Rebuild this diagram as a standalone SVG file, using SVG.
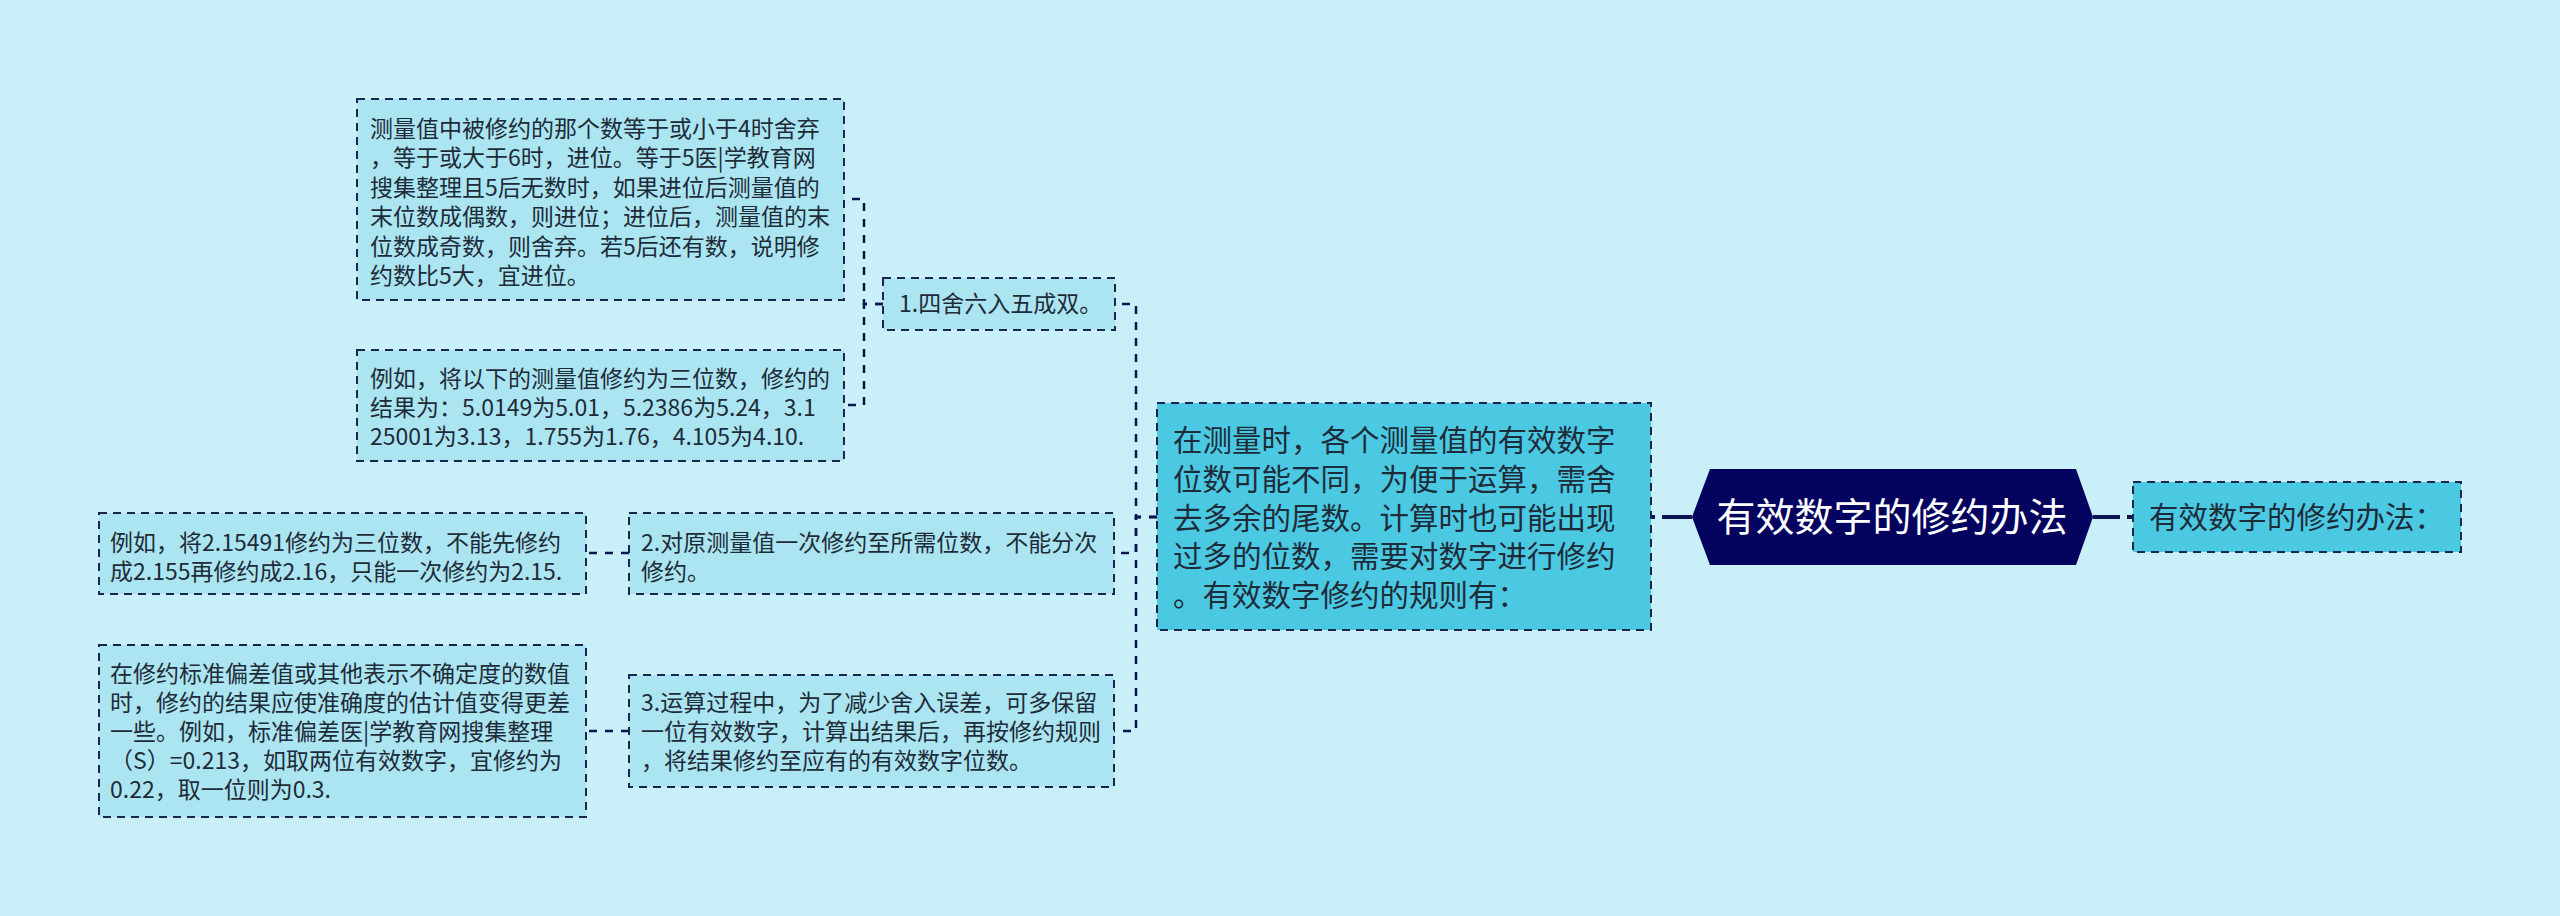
<svg xmlns="http://www.w3.org/2000/svg" width="2560" height="916" viewBox="0 0 2560 916">
<style>
.bg{fill:#c9f0f8}
.leaf{fill:#ace5f2;stroke:#1a2550;stroke-width:2;stroke-dasharray:8 6}
.main{fill:#4bc9e2;stroke:#1a2550;stroke-width:2;stroke-dasharray:8 6}
.t{font-family:"Noto Sans CJK SC","Microsoft YaHei",sans-serif;fill:#1e2b38}
.s{font-size:23px}
.m{font-size:29.5px}
.conn{fill:none;stroke:#0d1450;stroke-width:2.5;stroke-dasharray:8 8}
.thick{fill:none;stroke:#0d1450;stroke-width:4}
</style>
<rect class="bg" x="0" y="0" width="2560" height="916"/>
<g id="connectors">
<path class="conn" d="M1157,517 H1136 V304 H1115"/>
<path class="conn" d="M1157,517 H1136 V553 H1114"/>
<path class="conn" d="M1157,517 H1136 V731 H1114"/>
<path class="conn" d="M883,304 H864 V199 H844"/>
<path class="conn" d="M883,304 H864 V405 H844"/>
<path class="conn" d="M629,553 H586"/>
<path class="conn" d="M629,731 H586"/>
<path class="thick" d="M1692,517 H1651" stroke-dasharray="30 7 5"/>
<path class="thick" d="M2093,517 H2133" stroke-dasharray="27 7 6"/>
</g>
<g id="root">
<polygon points="1692,517 1710,469 2076,469 2093,517 2076,565 1710,565" fill="#03035f"/>
<text class="t" x="1892" y="531" font-size="39" text-anchor="middle" style="fill:#ffffff">有效数字的修约办法</text>
</g>
<g id="right-node">
<rect class="main" x="2133" y="482" width="328" height="70"/>
<text class="t m" x="2149" y="528">有效数字的修约办法：</text>
</g>
<g id="main-node">
<rect class="main" x="1157" y="403" width="494" height="227"/>
<text class="t m" x="1173" y="451">在测量时，各个测量值的有效数字</text>
<text class="t m" x="1173" y="490">位数可能不同，为便于运算，需舍</text>
<text class="t m" x="1173" y="529">去多余的尾数。计算时也可能出现</text>
<text class="t m" x="1173" y="567">过多的位数，需要对数字进行修约</text>
<text class="t m" x="1173" y="606">。有效数字修约的规则有：</text>
</g>
<g id="node-1">
<rect class="leaf" x="883" y="278" width="232" height="52"/>
<text class="t s" x="899" y="312">1.四舍六入五成双。</text>
</g>
<g id="node-1a">
<rect class="leaf" x="357" y="99" width="487" height="201"/>
<text class="t s" x="370" y="137">测量值中被修约的那个数等于或小于4时舍弃</text>
<text class="t s" x="370" y="166.4">，等于或大于6时，进位。等于5医|学教育网</text>
<text class="t s" x="370" y="195.8">搜集整理且5后无数时，如果进位后测量值的</text>
<text class="t s" x="370" y="225.2">末位数成偶数，则进位；进位后，测量值的末</text>
<text class="t s" x="370" y="254.6">位数成奇数，则舍弃。若5后还有数，说明修</text>
<text class="t s" x="370" y="284">约数比5大，宜进位。</text>
</g>
<g id="node-1b">
<rect class="leaf" x="357" y="350" width="487" height="111"/>
<text class="t s" x="370" y="387">例如，将以下的测量值修约为三位数，修约的</text>
<text class="t s" x="370" y="416">结果为：5.0149为5.01，5.2386为5.24，3.1</text>
<text class="t s" x="370" y="445">25001为3.13，1.755为1.76，4.105为4.10.</text>
</g>
<g id="node-2">
<rect class="leaf" x="629" y="513" width="485" height="81"/>
<text class="t s" x="641" y="551">2.对原测量值一次修约至所需位数，不能分次</text>
<text class="t s" x="641" y="580">修约。</text>
</g>
<g id="node-2a">
<rect class="leaf" x="99" y="513" width="487" height="81"/>
<text class="t s" x="110" y="551">例如，将2.15491修约为三位数，不能先修约</text>
<text class="t s" x="110" y="580">成2.155再修约成2.16，只能一次修约为2.15.</text>
</g>
<g id="node-3">
<rect class="leaf" x="629" y="675" width="485" height="112"/>
<text class="t s" x="641" y="711">3.运算过程中，为了减少舍入误差，可多保留</text>
<text class="t s" x="641" y="740">一位有效数字，计算出结果后，再按修约规则</text>
<text class="t s" x="641" y="769">，将结果修约至应有的有效数字位数。</text>
</g>
<g id="node-3a">
<rect class="leaf" x="99" y="645" width="487" height="172"/>
<text class="t s" x="110" y="682">在修约标准偏差值或其他表示不确定度的数值</text>
<text class="t s" x="110" y="711">时，修约的结果应使准确度的估计值变得更差</text>
<text class="t s" x="110" y="740">一些。例如，标准偏差医|学教育网搜集整理</text>
<text class="t s" x="110" y="769">（S）=0.213，如取两位有效数字，宜修约为</text>
<text class="t s" x="110" y="798">0.22，取一位则为0.3.</text>
</g>
</svg>
